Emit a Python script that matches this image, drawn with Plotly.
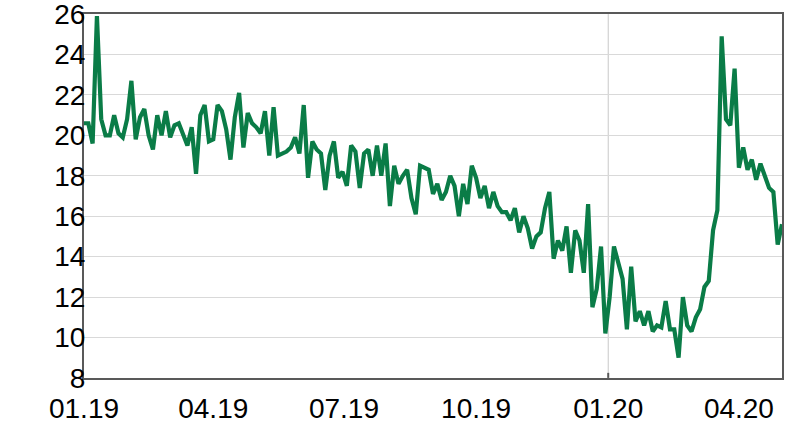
import pandas as pd
import plotly.graph_objects as go

# Values, one every 3 calendar days starting 2019-01-01
start_date = "2019-01-01"
step = "3D"

v_q1_2019 = [20.6, 20.6, 19.6, 25.9, 20.8, 20.0, 20.0, 21.0, 20.1, 19.9,
             20.8, 22.7, 19.8, 20.9, 21.3, 20.0, 19.3, 21.0, 20.0, 21.2,
             19.9, 20.5, 20.6, 20.0, 19.5, 20.4, 18.1, 21.0, 21.5, 19.7]
v_q2_2019 = [19.8, 21.5, 21.2, 20.3, 18.8, 20.9, 22.1, 19.4, 21.1, 20.6,
             20.4, 20.1, 21.2, 19.0, 21.4, 19.0, 19.1, 19.2, 19.4, 19.9,
             19.1, 21.5, 17.9, 19.7, 19.3, 19.1, 17.3, 19.0, 19.7, 17.9]
v_q3_2019 = [18.2, 17.5, 19.5, 19.2, 17.4, 19.1, 19.3, 18.0, 19.5, 18.0,
             19.6, 16.5, 18.5, 17.6, 18.0, 18.3, 16.9, 16.1, 18.5, 18.4,
             18.3, 17.1, 17.6, 16.8, 17.2, 18.0, 17.5, 16.0, 17.6, 16.6]
v_q4_2019 = [18.5, 17.9, 16.9, 17.5, 16.4, 17.2, 16.5, 16.2, 16.2, 15.8,
             16.4, 15.2, 16.0, 15.4, 14.4, 15.0, 15.2, 16.4, 17.2, 13.9,
             14.8, 14.3, 15.5, 13.2, 15.3, 14.8, 13.2, 16.6, 11.5, 12.4,
             14.5, 10.2]
v_2020 = [12.0, 14.5, 13.6, 12.9, 10.4, 13.5, 10.8, 11.3, 10.6, 11.3,
          10.3, 10.6, 10.5, 11.8, 10.4, 10.4, 9.0, 12.0, 10.6, 10.3,
          11.0, 11.4, 12.5, 12.8, 15.3, 16.3, 24.9, 20.8, 20.5, 23.3,
          18.4, 19.4, 18.3, 18.8, 17.8, 18.6, 18.0, 17.4, 17.2, 14.6,
          15.6]

values = v_q1_2019 + v_q2_2019 + v_q3_2019 + v_q4_2019 + v_2020
dates = pd.date_range(start_date, periods=len(values), freq=step)

tick_dates = ["2019-01-01", "2019-04-01", "2019-07-01", "2019-10-01",
              "2020-01-01", "2020-04-01"]
tick_labels = ["01.19", "04.19", "07.19", "10.19", "01.20", "04.20"]
y_ticks = [8, 10, 12, 14, 16, 18, 20, 22, 24, 26]
year_break = "2020-01-01"

fig = go.Figure()
fig.add_trace(go.Scatter(
    x=dates, y=values, mode="lines",
    line=dict(color="#0A7C47", width=4.2),
    hoverinfo="skip", cliponaxis=False
))

fig.add_shape(type="line", xref="x", yref="y",
              x0=year_break, x1=year_break, y0=8, y1=26,
              line=dict(color="#C8C8C8", width=1), layer="below")
fig.add_shape(type="line", xref="x", yref="y",
              x0=year_break, x1=year_break, y0=8, y1=8.25,
              line=dict(color="#595959", width=2))

font = dict(family="Liberation Sans, Arial, sans-serif", size=28, color="#000000")

fig.update_layout(
    width=792, height=426,
    margin=dict(l=84, r=10, t=14, b=48, autoexpand=False),
    paper_bgcolor="white", plot_bgcolor="white",
    showlegend=False,
    font=font,
)
fig.update_xaxes(
    type="date", automargin=False,
    range=["2019-01-01", "2020-05-01"],
    tickvals=tick_dates, ticktext=tick_labels,
    showgrid=False, zeroline=False,
    showline=True, linecolor="#595959", linewidth=2, mirror=True,
    ticks="", tickfont=font, ticklabelstandoff=4,
)
fig.update_yaxes(
    range=[7.995, 26.005], tickvals=y_ticks, automargin=False,
    showgrid=True, gridcolor="#D9D9D9", gridwidth=1,
    zeroline=False,
    showline=True, linecolor="#595959", linewidth=2, mirror=True,
    ticks="", tickfont=font, ticklabelstandoff=-9,
    ticklabeloverflow="allow",
)

fig.write_html("out.html", config={"displayModeBar": False},
               post_script="document.body.style.margin='0px';")
